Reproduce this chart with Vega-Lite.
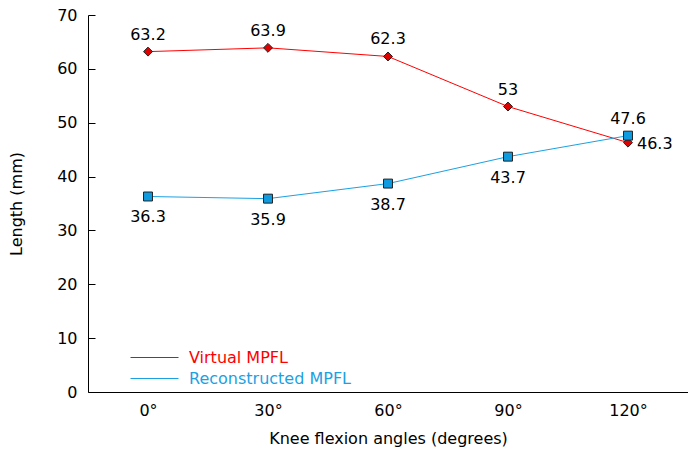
{
  "$schema": "https://vega.github.io/schema/vega-lite/v6.json",
  "width": 600,
  "height": 377,
  "autosize": {"type": "none"},
  "padding": {"left": 88, "top": 15, "right": 0, "bottom": 58},
  "background": "white",
  "config": {
    "view": {"stroke": null},
    "font": "DejaVu Sans",
    "axis": {"labelFont": "DejaVu Sans", "titleFont": "DejaVu Sans", "labelFontSize": 16, "titleFontSize": 16, "titleFontWeight": "normal", "labelColor": "#000", "titleColor": "#000", "domainColor": "#000", "tickColor": "#000", "grid": false}
  },
  "data": {
    "values": [
      {"angle": "0°", "series": "Virtual MPFL", "length": 63.2},
      {"angle": "30°", "series": "Virtual MPFL", "length": 63.9},
      {"angle": "60°", "series": "Virtual MPFL", "length": 62.3},
      {"angle": "90°", "series": "Virtual MPFL", "length": 53},
      {"angle": "120°", "series": "Virtual MPFL", "length": 46.3},
      {"angle": "0°", "series": "Reconstructed MPFL", "length": 36.3},
      {"angle": "30°", "series": "Reconstructed MPFL", "length": 35.9},
      {"angle": "60°", "series": "Reconstructed MPFL", "length": 38.7},
      {"angle": "90°", "series": "Reconstructed MPFL", "length": 43.7},
      {"angle": "120°", "series": "Reconstructed MPFL", "length": 47.6}
    ]
  },
  "encoding": {
    "x": {"field": "angle", "type": "ordinal", "sort": ["0°", "30°", "60°", "90°", "120°"],
      "scale": {"type": "point", "padding": 0.5},
      "axis": {"title": "Knee flexion angles (degrees)", "labelAngle": 0, "ticks": false, "labelPadding": 10, "titlePadding": 12}},
    "y": {"field": "length", "type": "quantitative", "scale": {"domain": [0, 70]},
      "axis": {"title": "Length (mm)", "values": [0, 10, 20, 30, 40, 50, 60, 70], "tickSize": -7, "labelPadding": 18, "titlePadding": 32}}
  },
  "layer": [
    {
      "mark": {"type": "line", "strokeWidth": 1},
      "encoding": {
        "color": {"field": "series", "type": "nominal",
          "scale": {"domain": ["Virtual MPFL", "Reconstructed MPFL"], "range": ["#FF0000", "#1BA1E2"]},
          "legend": {"title": null, "orient": "none", "legendX": 54, "legendY": 330, "symbolType": "M-2,0L2,0", "symbolSize": 576, "symbolStrokeWidth": 1, "symbolFillColor": "transparent", "labelFontSize": 16, "labelFont": "DejaVu Sans", "labelLimit": 400, "rowPadding": -2, "labelOffset": 22,
            "encode": {"labels": {"update": {"fill": {"scale": "color", "field": "value"}}}}}
        }
      }
    },
    {
      "transform": [{"filter": "datum.series == 'Virtual MPFL'"}],
      "mark": {"type": "point", "shape": "diamond", "filled": true, "fill": "#E00000", "stroke": "#222", "strokeWidth": 1, "opacity": 1, "size": 80}
    },
    {
      "transform": [{"filter": "datum.series == 'Reconstructed MPFL'"}],
      "mark": {"type": "point", "shape": "square", "filled": true, "fill": "#0F9BE0", "stroke": "#222", "strokeWidth": 1, "opacity": 1, "size": 80}
    },
    {
      "transform": [{"filter": "(datum.series == 'Virtual MPFL' && datum.angle != '120°') || (datum.series == 'Reconstructed MPFL' && datum.angle == '120°')"}],
      "mark": {"type": "text", "dy": -17, "fontSize": 16, "color": "#000"},
      "encoding": {"text": {"field": "length", "type": "quantitative"}}
    },
    {
      "transform": [{"filter": "datum.series == 'Reconstructed MPFL' && datum.angle != '120°'"}],
      "mark": {"type": "text", "dy": 21, "fontSize": 16, "color": "#000"},
      "encoding": {"text": {"field": "length", "type": "quantitative"}}
    },
    {
      "transform": [{"filter": "datum.series == 'Virtual MPFL' && datum.angle == '120°'"}],
      "mark": {"type": "text", "dx": 9, "dy": 1, "align": "left", "fontSize": 16, "color": "#000"},
      "encoding": {"text": {"field": "length", "type": "quantitative"}}
    }
  ]
}
